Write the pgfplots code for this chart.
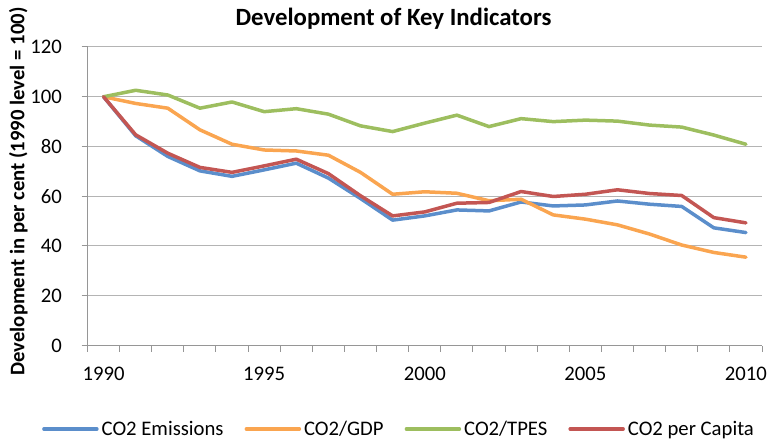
\documentclass[border=0pt]{standalone}
\usepackage{fontspec}
\setmainfont{Carlito}
\usepackage{pgfplots}
\pgfplotsset{compat=1.18}
\definecolor{cblue}{RGB}{91,142,203}
\definecolor{corange}{RGB}{250,165,80}
\definecolor{cgreen}{RGB}{157,190,95}
\definecolor{cred}{RGB}{195,86,83}
\definecolor{cgrid}{RGB}{180,180,180}
\definecolor{caxis}{RGB}{150,150,150}
\begin{document}
\begin{tikzpicture}
\useasboundingbox (0,0) rectangle (769bp,443bp);
\begin{axis}[
  at={(87.5bp,97.5bp)}, anchor=south west,
  scale only axis, width=674.5bp, height=298.5bp,
  xmin=1989.5, xmax=2010.5, ymin=0, ymax=120,
  axis x line*=bottom, axis y line*=left,
  axis line style={caxis, line width=1bp, -},
  tick align=outside,
  ytick={0,20,40,60,80,100,120},
  xtick={1989.5,1990.5,1991.5,1992.5,1993.5,1994.5,1995.5,1996.5,1997.5,1998.5,1999.5,2000.5,2001.5,2002.5,2003.5,2004.5,2005.5,2006.5,2007.5,2008.5,2009.5,2010.5},
  xticklabels={},
  extra x ticks={1990,1995,2000,2005,2010},
  extra x tick labels={1990,1995,2000,2005,2010},
  extra x tick style={major tick length=0pt, grid=none},
  major tick length=6bp,
  tick style={caxis, line width=1bp},
  ymajorgrids, grid style={cgrid, line width=1bp},
  font=\fontsize{20.7bp}{25bp}\selectfont,
  /pgf/number format/assume math mode=true,
  xticklabel style={anchor=base, yshift=-34.5bp, inner sep=0pt},
  yticklabel style={anchor=east, xshift=-19.5bp, inner sep=0pt},
  yticklabel={\pgfmathprintnumber[assume math mode=true]{\tick}},
  title={\bfseries Development of Key Indicators},
  title style={at={(0.4537,1)}, anchor=base, yshift=15.5bp, inner sep=0pt, font=\fontsize{24.8bp}{30bp}\selectfont},
  ylabel={\bfseries Development in per cent (1990 level = 100)},
  ylabel style={at={(axis description cs:-0.0937,0.516)}, anchor=base, inner sep=0pt},
  legend columns=4,
  legend style={at={(axis description cs:-0.0675,-0.2797)}, anchor=west, draw=none, fill=none, inner sep=0pt,
    nodes={inner sep=0pt, anchor=west},
    /tikz/every odd column/.style={column sep=3bp},
    /tikz/every even column/.style={column sep=21bp}},
  legend image code/.code={\draw[#1] (0bp,0bp) -- (53bp,0bp);},
  every axis plot/.append style={line width=3.5bp, line join=round, line cap=round},
]
\addplot[cblue] coordinates {
(1990,100) (1991,84.3) (1992,76.0) (1993,70.2) (1994,68.0) (1995,70.6) (1996,73.3) (1997,67.3) (1998,59.1) (1999,50.4) (2000,52.1)
(2001,54.5) (2002,54.1) (2003,57.7) (2004,56.1) (2005,56.5) (2006,58.1) (2007,56.8) (2008,55.9) (2009,47.3) (2010,45.4)};
\addlegendentry{CO2 Emissions}
\addplot[corange] coordinates {
(1990,100) (1991,97.3) (1992,95.4) (1993,86.7) (1994,80.9) (1995,78.6) (1996,78.2) (1997,76.5) (1998,69.6) (1999,60.8) (2000,61.8)
(2001,61.2) (2002,58.2) (2003,58.8) (2004,52.5) (2005,50.8) (2006,48.5) (2007,44.8) (2008,40.4) (2009,37.4) (2010,35.5)};
\addlegendentry{CO2/GDP}
\addplot[cgreen] coordinates {
(1990,100) (1991,102.6) (1992,100.7) (1993,95.4) (1994,97.9) (1995,94.0) (1996,95.2) (1997,93.0) (1998,88.3) (1999,86.0) (2000,89.4)
(2001,92.6) (2002,88.0) (2003,91.2) (2004,90.0) (2005,90.6) (2006,90.2) (2007,88.6) (2008,87.8) (2009,84.6) (2010,80.9)};
\addlegendentry{CO2/TPES}
\addplot[cred] coordinates {
(1990,100) (1991,84.7) (1992,77.3) (1993,71.6) (1994,69.6) (1995,72.2) (1996,74.9) (1997,69.1) (1998,60.2) (1999,52.1) (2000,53.7)
(2001,57.2) (2002,57.5) (2003,61.9) (2004,59.9) (2005,60.8) (2006,62.6) (2007,61.1) (2008,60.3) (2009,51.4) (2010,49.3)};
\addlegendentry{CO2 per Capita}
\end{axis}
\end{tikzpicture}
\end{document}
